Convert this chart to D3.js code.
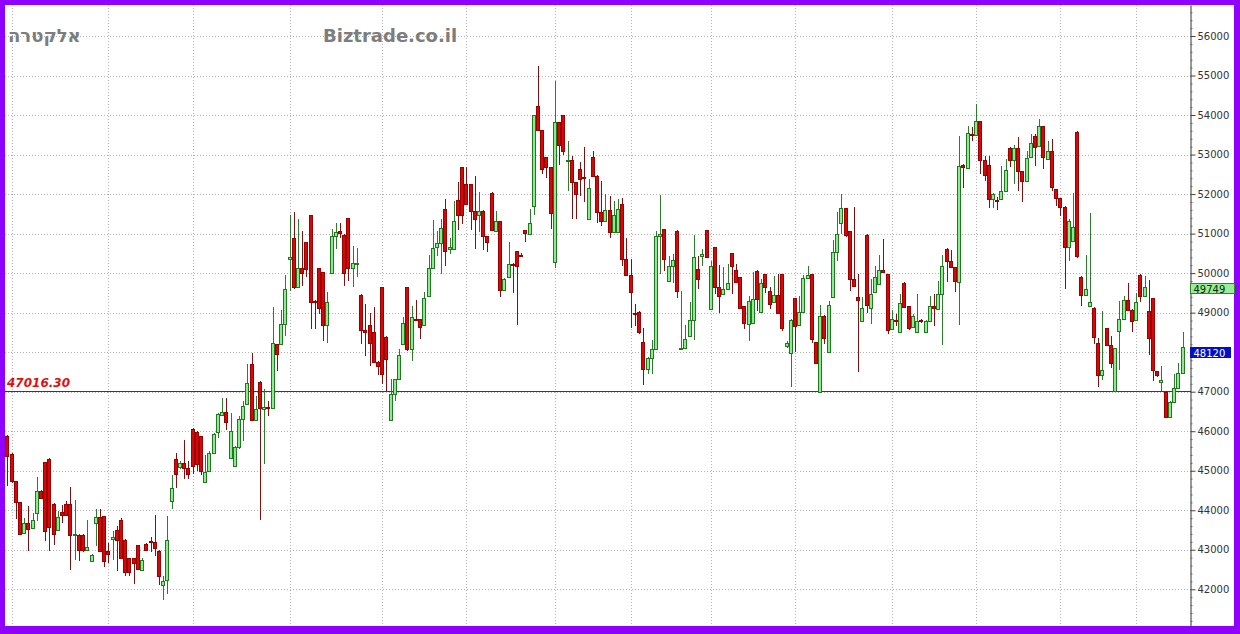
<!DOCTYPE html>
<html><head><meta charset="utf-8">
<script src="https://cdn.jsdelivr.net/npm/d3@7"></script>
<style>html,body{margin:0;padding:0;background:#fff;} svg{display:block}</style>
</head><body>
<svg id="chart" width="1240" height="634"></svg>
<script>
// ---- DATA ----
const open = [
45890,45430,44730,44200,43430,43680,43550,43920,44480,45220,
45300,44160,43490,43950,44160,44160,43370,43380,43380,42990,
42710,43680,43820,43850,42980,43270,43490,43760,43260,42790,
42790,43110,42500,43150,43230,43200,42980,42100,42230,44230,
45300,45100,45200,45070,46060,45990,45880,44720,44990,45450,
45990,46400,46480,45330,45120,45610,46320,46680,47690,46280,
47250,46570,46620,46600,48200,48200,48710,50370,50880,49650,
50130,50790,51470,49300,50130,50030,48680,50000,50930,51060,
50970,51390,50140,50230,49450,48560,48690,48520,47760,49640,
48390,46280,46930,47310,48200,49650,48090,48850,48830,48680,
49430,50130,50670,50750,51620,50610,50620,51860,52680,52250,
52250,51560,51480,51580,50940,52040,51070,51320,49570,49890,
50230,50560,50470,51090,50990,51700,54240,53620,52930,52680,
50290,53820,53990,52830,52860,52300,52630,52430,51380,52950,
52470,51550,51320,51600,51030,51050,51760,50350,49950,49000,
49020,48260,47580,47860,48070,50930,51110,49800,50180,51070,
48090,48110,48410,48810,50100,50440,51090,49100,50650,49640,
49470,49590,50500,50090,49890,49160,48710,48730,50060,49020,
49980,49550,49280,49450,49980,48160,47990,49370,48680,49020,
49870,49980,48260,47000,48920,48010,49390,50540,51270,51650,
51060,49860,49390,48800,50970,49110,49520,49730,50090,49980,
48590,48820,48500,49760,49160,48630,48500,48810,48500,48800,
49170,49100,49480,50620,50300,50150,49770,52740,52660,53530,
53500,53840,52860,52740,51870,51840,51870,52070,53160,52870,
53170,52580,52320,52950,53460,53210,53720,52890,53080,52130,
51900,51680,50650,50820,53580,49910,49450,49180,49130,48230,
47420,48610,48170,47030,48540,48840,49320,49070,48820,49960,
49430,49030,49370,47520,47250,47000,46370,46750,47100,47470
];
const close = [
45380,44730,44200,43410,43680,43530,43750,44480,44310,43470,
43580,43410,43820,43890,43870,43370,43410,42990,42990,43070,
42880,43820,42960,42710,42900,43320,43240,42790,42430,42430,
42670,42520,42750,42990,43200,43050,42330,42200,43260,44570,
44920,45200,45060,44920,45130,45160,44990,44970,45450,45940,
46430,46480,46230,46000,45610,46320,46640,47230,46280,46550,
46580,46620,46580,48240,47960,48710,49590,50420,49650,50130,
50000,50100,49280,49260,49130,48680,49280,50950,51050,51010,
50000,50140,50250,50250,48560,48510,48230,47760,47650,47460,
47820,46930,47310,47920,48730,48090,48900,48830,48640,49360,
50120,50630,50750,51140,50550,50670,51320,51470,51470,51750,
51560,51370,51560,50940,50800,51090,51310,49570,49860,50230,
50200,50170,50450,51010,51260,54000,53620,52630,52680,51520,
53820,53230,53100,52860,52300,51990,52380,52410,52150,52470,
51550,51320,51590,51030,51480,51620,50350,49950,49510,48990,
48520,47580,47860,48070,50930,50990,50350,50180,50340,49550,
48110,48340,48810,50420,49860,50480,50420,50190,49640,49430,
49610,49750,50190,49780,49130,48730,49300,49340,49340,49750,
49640,49210,49450,49000,48620,48230,48820,48670,49020,49870,
49960,48340,47720,48920,48370,49190,50540,51000,51650,50960,
49860,49670,49310,49110,49200,49480,49900,50070,50030,48550,
48830,48800,49250,49140,48610,48910,48800,48790,48800,49160,
49130,49480,50180,50300,50150,49790,52720,52680,53540,53500,
53840,52870,52490,51870,52000,51830,52070,52620,52870,53170,
52580,52320,52910,53290,53180,53720,52930,53080,52190,51900,
51680,50650,51320,51160,50440,49450,49590,49280,48390,47420,
47550,48170,47720,48100,48840,49320,49070,48780,49280,49430,
49640,48350,47550,47420,47300,46370,46750,47100,47470,48120
];
const high = [
45900,45450,44750,44220,43800,44100,43930,44840,44500,45230,
45310,44180,43980,44140,44230,44580,44270,43400,43400,43750,
42900,44030,44020,43860,43170,43470,43600,43800,43270,42800,
42800,43130,42790,43160,43330,43870,42990,42330,43850,44900,
45440,45250,45790,45240,46070,46000,45890,45410,45500,45960,
46470,46830,46850,46470,45620,46380,46760,47690,47990,46890,
47260,47060,46760,49150,48210,49060,49960,51480,51540,51370,
51070,50800,51480,49310,50140,50040,49530,51110,51280,51260,
50980,51400,50690,50630,49460,49210,49000,49150,47770,49650,
48400,47330,47320,48090,48880,49660,49170,49320,48840,49510,
50460,51350,51070,51380,51870,50880,51830,52310,52690,52680,
52260,52450,52060,51590,50950,52050,51560,51330,49870,50800,
50250,50570,50500,51100,51620,54010,55250,53630,52940,52690,
54870,53830,54000,53350,52970,52310,52800,53180,52380,53100,
52480,52340,52000,51950,51830,51870,51900,50900,50350,49210,
49030,48620,47870,48300,51070,51980,51120,50440,50480,51080,
49550,48700,49270,50960,50440,50600,51100,50310,50660,50200,
50150,50230,50520,50230,49900,49170,49430,50030,50070,49850,
49990,49640,49930,49980,49990,48280,48830,49380,49430,49950,
50190,49990,48270,49190,48930,49300,50830,51550,52010,51660,
51070,51670,49980,49390,50980,49860,50180,50460,50870,49990,
49060,48960,49480,49770,49170,48970,49480,48850,48810,49420,
49480,49790,50450,50630,50580,50160,53480,52750,53730,53710,
54280,53850,52970,52970,52040,51930,52720,52890,53200,53230,
53440,52590,53100,53520,53520,53900,53730,53350,53390,52140,
51910,51690,51370,52020,53590,49920,50460,51520,49140,48350,
49040,48620,48400,48110,49300,49410,49740,49080,49490,49970,
49920,49830,49380,47530,47640,47010,46760,47440,47720,48520
];
const low = [
44610,44700,43780,43400,43400,42980,43530,43720,44300,43230,
42980,43130,43470,43680,43850,42500,42750,42710,42950,42980,
42700,43090,42950,42570,42670,42750,42460,42780,42330,42330,
42140,42500,42490,42980,42940,42840,42120,41740,41870,44020,
44570,45050,44790,44790,44920,45000,44880,44700,44980,45440,
45840,46390,46040,45320,45110,45550,45750,46670,46270,46270,
43760,45160,46390,46590,47520,48190,48410,49550,49600,49640,
49680,49900,48580,48580,48960,48280,48240,49990,50610,50900,
49680,49800,49640,49910,48200,47900,47650,47750,47420,47190,
47020,46270,46760,47300,48190,48040,47780,48820,48330,48670,
49420,50120,50440,49990,50180,50480,50610,51090,51240,51740,
51090,50620,51050,50580,50540,51080,51060,49400,49560,49880,
49490,48690,50420,50780,50970,51480,53610,52500,52400,51110,
50140,52730,53000,52090,51380,51370,51960,51810,51370,52460,
51280,51200,51310,50900,51020,51040,50180,49940,48620,48660,
48450,47160,47460,47450,48060,49970,50060,49790,49760,49380,
48080,48100,48400,48310,49590,50170,50410,49090,49470,49000,
49460,49580,49470,49770,49120,48580,48290,48720,49050,49010,
49500,49100,49270,48990,48540,48100,47130,48000,48670,49010,
49860,48230,47710,46990,48200,48000,49380,50300,51000,50910,
49560,49660,47490,48790,48990,48720,49510,49720,50020,48450,
48580,48670,48490,49130,48550,48620,48490,48750,48490,48790,
48670,49090,48170,49780,50140,49510,48690,52150,52650,53350,
53490,52510,52320,51660,51660,51600,51860,52060,52690,52260,
52090,51800,52310,52940,52720,53200,52640,52880,52080,51700,
51450,49590,50310,50810,50380,49180,49440,49140,48200,47120,
47300,48150,47590,47020,47540,48830,49060,48520,48810,49280,
49420,47930,47260,47380,47010,46340,46330,46740,47090,47460
];
const monthStartIdx = [1,24,44,67,89,109,130,148,167,187,210,230,250,268];
const yTickValues = d3.range(42000, 56001, 1000);
const refLevel = 47016.30;
const refLabel = "47016.30";
const markerValues = [49749, 48120];
const markerTexts = ["49749", "48120"];
const titleText = "אלקטרה";
const siteText = "Biztrade.co.il";

// ---- LAYOUT ----
const W = 1240, H = 634;
const plotL = 5, plotR = 1190.5, plotT = 5, plotB = 626;
const svg = d3.select("#chart");

const x = d3.scalePoint().domain(d3.range(open.length)).range([7.3, 1182.5]);
const y = d3.scaleLinear().domain([42000, 56000]).range([589.3, 36]);
const yAxisScale = y.copy().domain([y.invert(plotB), y.invert(plotT)]).range([plotB, plotT]);

// frame
svg.append("rect").attr("x",0).attr("y",0).attr("width",W).attr("height",H).attr("fill","#9000ff");
svg.append("rect").attr("x",5).attr("y",5).attr("width",1229).attr("height",621).attr("fill","#ffffff");

// grid
const grid = svg.append("g").attr("stroke","#b4b4b4").attr("stroke-dasharray","1,2").attr("shape-rendering","crispEdges");
grid.selectAll("line.h").data(yTickValues).join("line").attr("class","h")
  .attr("x1",plotL).attr("x2",plotR)
  .attr("y1",d=>Math.round(y(d))+0.5).attr("y2",d=>Math.round(y(d))+0.5);
grid.selectAll("line.v").data(monthStartIdx).join("line").attr("class","v")
  .attr("x1",d=>Math.round(x(d))+0.5).attr("x2",d=>Math.round(x(d))+0.5)
  .attr("y1",plotT).attr("y2",plotB);

// titles
svg.append("text").attr("x",8).attr("y",42).text(titleText)
  .attr("font-family","DejaVu Sans").attr("font-weight","bold").attr("font-size",18).attr("fill","#7d7d7d");
svg.append("text").attr("x",323).attr("y",42).text(siteText)
  .attr("font-family","DejaVu Sans").attr("font-weight","bold").attr("font-size",18).attr("fill","#7d7d7d");

// reference line
svg.append("line").attr("x1",plotL).attr("x2",plotR)
  .attr("y1",Math.round(y(refLevel))+0.5).attr("y2",Math.round(y(refLevel))+0.5)
  .attr("stroke","#3a3a3a").attr("stroke-width",1).attr("shape-rendering","crispEdges");
svg.append("text").attr("x",7).attr("y",Math.round(y(refLevel))-4).text(refLabel)
  .attr("font-family","DejaVu Sans").attr("font-weight","bold").attr("font-style","italic")
  .attr("font-size",12).attr("fill","#e01010");

// candles
const idx = d3.range(open.length);
const cg = svg.append("g").attr("shape-rendering","crispEdges");
const isUp = i => close[i] >= open[i];
cg.selectAll("line.wick").data(idx).join("line").attr("class","wick")
  .attr("x1",i=>Math.round(x(i)) + 0.5).attr("x2",i=>Math.round(x(i)) + 0.5)
  .attr("y1",i=>y(Math.max(high[i],open[i],close[i])))
  .attr("y2",i=>y(Math.min(low[i],open[i],close[i])))
  .attr("stroke",i=>isUp(i) ? "#2b7d2b" : "#7d1010").attr("stroke-width",1);
cg.selectAll("rect.body").data(idx).join("rect").attr("class","body")
  .attr("x",i=>Math.round(x(i)) - 1.5)
  .attr("y",i=>Math.round(y(Math.max(open[i],close[i]))) + 0.5)
  .attr("width",3)
  .attr("height",i=>Math.max(1, Math.round(y(Math.min(open[i],close[i]))) - Math.round(y(Math.max(open[i],close[i])))))
  .attr("fill",i=>isUp(i) ? "#8eea8e" : "#d40808")
  .attr("stroke",i=>isUp(i) ? "#1f7a1f" : "#9a0000").attr("stroke-width",1);

// axis (tick labels hidden where a value marker covers them, as in the reference)
const covered = v => markerValues.some(m => { const d = y(v) - y(m); return d > -8 && d < 14; });
const axisG = svg.append("g").attr("transform",`translate(${plotR},0)`);
axisG.call(d3.axisRight(yAxisScale).tickValues(yTickValues).tickSize(5).tickSizeOuter(0)
  .tickPadding(2).tickFormat(v => covered(v) ? "" : d3.format("d")(v)));
axisG.select(".domain").attr("stroke","#333");
axisG.selectAll(".tick line").attr("stroke","#444");
axisG.selectAll(".tick text").attr("font-family","DejaVu Sans").attr("font-size",10).attr("fill","#333");
const minorG = svg.append("g").attr("transform",`translate(${plotR},0)`);
minorG.call(d3.axisRight(yAxisScale).tickValues(d3.range(41200,56801,200).filter(v=>v%1000!==0))
  .tickSize(2).tickSizeOuter(0).tickFormat(""));
minorG.select(".domain").remove();
minorG.selectAll(".tick line").attr("stroke","#666");

// value markers
const markerStyle = [{fill:"#98ee98", stroke:"#2a8a2a", text:"#0a2a0a", w:43.5},
                     {fill:"#0010c8", stroke:"#0010c8", text:"#ffffff", w:40}];
markerValues.forEach((v,k)=>{
  const yy = Math.round(y(v)) + 0.5;
  svg.append("rect").attr("x",plotR).attr("y",yy).attr("width",markerStyle[k].w).attr("height",10)
    .attr("fill",markerStyle[k].fill).attr("stroke",markerStyle[k].stroke).attr("shape-rendering","crispEdges");
  svg.append("text").attr("x",plotR+3).attr("y",yy+9).text(markerTexts[k])
    .attr("font-family","DejaVu Sans").attr("font-size",10).attr("fill",markerStyle[k].text);
});
</script>
</body></html>
